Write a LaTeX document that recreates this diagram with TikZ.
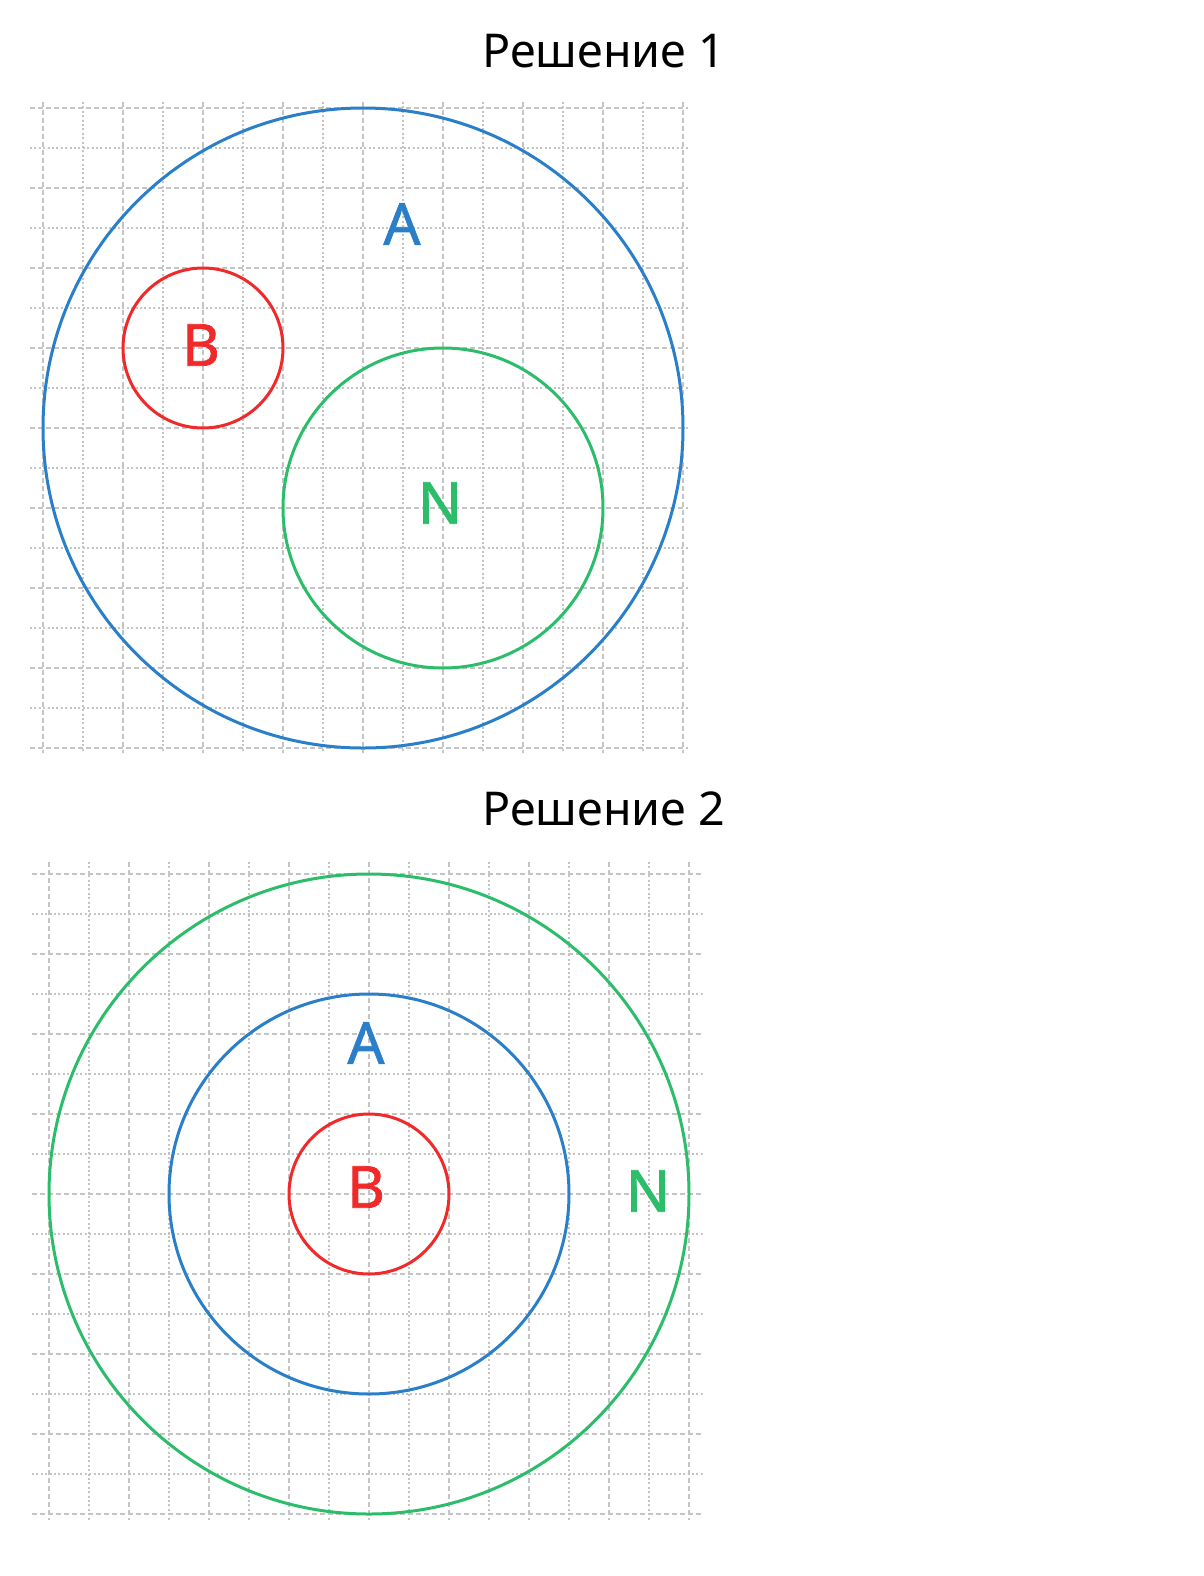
\documentclass[tikz,border=0pt]{standalone}
\usepackage{fontspec}
\setmainfont{Noto Sans}
\newfontfamily\labfont[FakeBold=1.3]{Noto Sans}
\definecolor{cblue}{HTML}{2A7FC8}
\definecolor{cred}{HTML}{F02A2A}
\definecolor{cgreen}{HTML}{2CBD6A}
\definecolor{cgrid}{HTML}{C4C4C4}
\begin{document}
\begin{tikzpicture}[x=0.5pt,y=-0.5pt,
  dashline/.style={cgrid,line width=1.1pt,dash pattern=on 2.6pt off 1.4pt},
  dotline/.style={cgrid,line width=1.1pt,dash pattern=on 1pt off 1.2pt},
  ring/.style={line width=1.5pt},
  lab/.style={inner sep=0pt,font=\labfont\fontsize{29}{31}\selectfont},
  title/.style={inner sep=0pt,anchor=base west,font=\fontsize{23.3}{26}\selectfont}]
\useasboundingbox (0,0) rectangle (1204,1576);
% grid 1
\foreach \k in {0,...,16}{
  \pgfmathsetmacro{\xx}{43+40*\k}
  \pgfmathsetmacro{\yy}{108+40*\k}
  \ifodd\k
    \draw[dotline] (\xx,102) -- (\xx,753);
    \draw[dotline] (30,\yy) -- (688,\yy);
  \else
    \draw[dashline] (\xx,102) -- (\xx,753);
    \draw[dashline] (30,\yy) -- (688,\yy);
  \fi
}
% grid 2
\foreach \k in {0,...,16}{
  \pgfmathsetmacro{\xx}{49+40*\k}
  \pgfmathsetmacro{\yy}{874+40*\k}
  \ifodd\k
    \draw[dotline] (\xx,862) -- (\xx,1520);
    \draw[dotline] (32,\yy) -- (703,\yy);
  \else
    \draw[dashline] (\xx,862) -- (\xx,1520);
    \draw[dashline] (32,\yy) -- (703,\yy);
  \fi
}
\node[title] (t1) at (482,67) {Решение 1};
\node[title] (t2) at (482,825) {Решение 2};
% solution 1
\draw[ring,cblue] (363,428) circle[radius=320];
\draw[ring,cred] (203,348) circle[radius=80];
\draw[ring,cgreen] (443,508) circle[radius=160];
\node[lab,text=cblue] (a1) at (402,224) {A};
\node[lab,text=cred] (b1) at (201,345) {B};
\node[lab,text=cgreen] (n1) at (440,503) {N};
% solution 2
\draw[ring,cgreen] (369,1194) circle[radius=320];
\draw[ring,cblue] (369,1194) circle[radius=200];
\draw[ring,cred] (369,1194) circle[radius=80];
\node[lab,text=cblue] (a2) at (366,1043) {A};
\node[lab,text=cred] (b2) at (366,1187) {B};
\node[lab,text=cgreen] (n2) at (648,1191) {N};
\end{tikzpicture}
\end{document}
